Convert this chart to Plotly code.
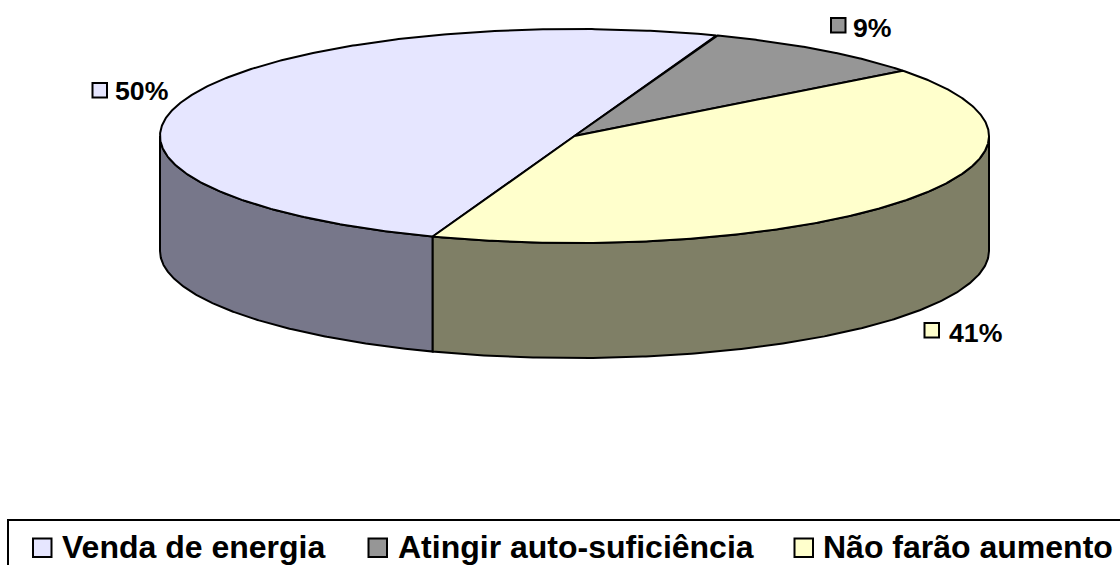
import numpy as np
import plotly.graph_objects as go

categories = ["Venda de energia", "Atingir auto-suficiência", "Não farão aumento"]
values = [50, 9, 41]
top_colors = ["#E6E6FF", "#969696", "#FFFFCC"]
side_colors = ["#77778A", "#707070", "#7F7F66"]
labels = ["50%", "9%", "41%"]

W, H = 1120, 565
CX, CY, RX, RY, DEPTH = 574.5, 136, 414.5, 107, 115
FIRST_ANGLE = 200
FONT = "Liberation Sans, Arial, sans-serif"
LINE = dict(color="#000000", width=2)


def ell(t_deg, dy=0):
    t = np.radians(t_deg)
    return CX + RX * np.sin(t), CY - RY * np.cos(t) + dy


fig = go.Figure()
total = sum(values)
edges = [FIRST_ANGLE]
for v in values:
    edges.append(edges[-1] + 360 * v / total)

# extruded side walls (only the front half, 90..270 degrees, is visible)
for i in range(3):
    for offset in (0, 360):
        a = max(edges[i], 90 + offset)
        b = min(edges[i + 1], 270 + offset)
        if b <= a:
            continue
        ts = np.linspace(a, b, 240)
        x1, y1 = ell(ts)
        x2, y2 = ell(ts[::-1], DEPTH)
        fig.add_trace(go.Scatter(
            x=np.r_[x1, x2, x1[0]], y=np.r_[y1, y2, y1[0]],
            mode="lines", fill="toself", fillcolor=side_colors[i],
            line=LINE, hoverinfo="skip", showlegend=False))

# top faces
for i in range(3):
    ts = np.linspace(edges[i], edges[i + 1], 400)
    x, y = ell(ts)
    fig.add_trace(go.Scatter(
        x=np.r_[CX, x, CX], y=np.r_[CY, y, CY],
        mode="lines", fill="toself", fillcolor=top_colors[i],
        line=LINE, name=categories[i], hoverinfo="skip", showlegend=False))

shapes = [dict(type="rect", xref="x", yref="y", x0=8, x1=1140, y0=520, y1=600,
               line=dict(color="#000000", width=2), fillcolor="#FFFFFF", layer="below")]
annotations = []


def key(x0, y0, size, color):
    shapes.append(dict(type="rect", xref="x", yref="y", x0=x0, x1=x0 + size, y0=y0, y1=y0 + size,
                       line=dict(color="#000000", width=2), fillcolor=color, layer="above"))


def text(x, y, s, size):
    annotations.append(dict(x=x, y=y, xref="x", yref="y", text="<b>%s</b>" % s, showarrow=False,
                            xanchor="left", yanchor="middle",
                            font=dict(family=FONT, size=size, color="#000000"),
                            borderpad=0, align="left"))


# data labels
label_pos = [(92.5, 83, 114, 91), (831, 18, 852, 28), (924.5, 323, 948, 333)]
for i, (kx, ky, tx, ty) in enumerate(label_pos):
    key(kx, ky, 14.5, top_colors[i])
    text(tx, ty, labels[i], 26.67)

# legend
legend_pos = [(33, 61), (368.5, 397), (794.5, 822)]
for i, (kx, tx) in enumerate(legend_pos):
    key(kx, 538.5, 18.5, top_colors[i])
    text(tx, 546.5, categories[i], 32)

fig.update_layout(
    width=W, height=H, margin=dict(l=0, r=0, t=0, b=0, pad=0),
    paper_bgcolor="#FFFFFF", plot_bgcolor="#FFFFFF",
    xaxis=dict(range=[0, W], visible=False, fixedrange=True),
    yaxis=dict(range=[H, 0], visible=False, fixedrange=True),
    shapes=shapes, annotations=annotations, showlegend=False,
)
fig.write_html("out.html", config={"displayModeBar": False},
               post_script="document.body.style.margin='0';document.documentElement.style.overflow='hidden';")
